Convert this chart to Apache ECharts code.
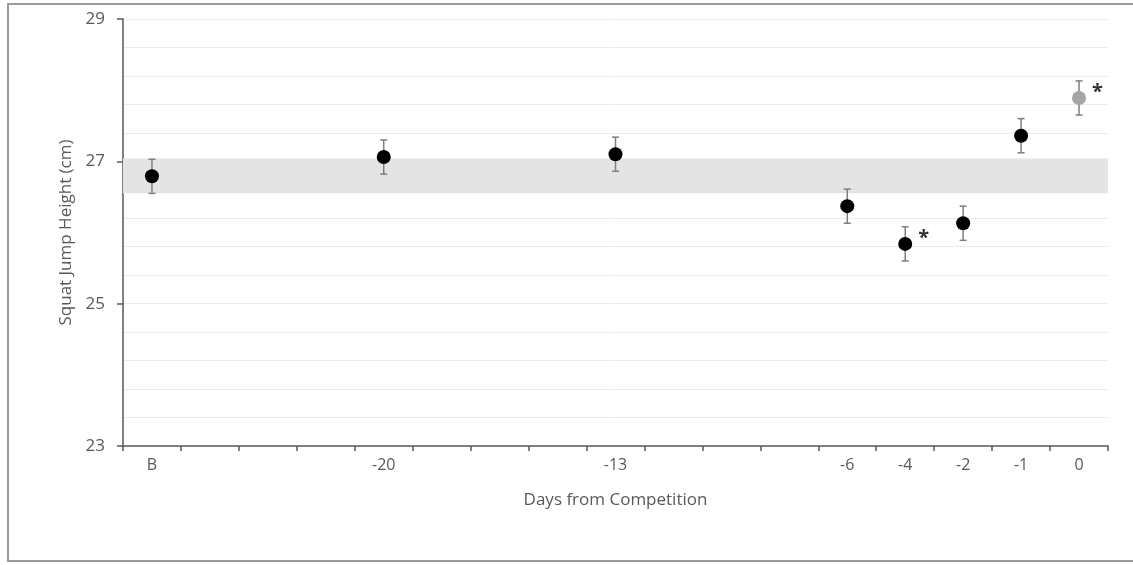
<!DOCTYPE html>
<html>
<head>
<meta charset="utf-8">
<script src="https://cdn.jsdelivr.net/npm/echarts@6/dist/echarts.min.js"></script>
<style>
  html, body { margin: 0; padding: 0; background: #fff; }
  #jump_chart { width: 1133px; height: 565px; }
</style>
</head>
<body>
<div id="jump_chart"></div>
<script>
// tick labels on the x axis (empty slots are unlabeled days)
var days = ['B', '', '', '', '-20', '', '', '', '-13', '', '', '', '-6', '-4', '-2', '-1', '0'];
// mean squat jump height (cm) and error (+/-)
var means = [26.79, null, null, null, 27.06, null, null, null, 27.10, null, null, null, 26.37, 25.84, 26.13, 27.36, 27.89];
var errors = [0.24, null, null, null, 0.24, null, null, null, 0.24, null, null, null, 0.24, 0.24, 0.24, 0.24, 0.24];
var flagged = [false, false, false, false, false, false, false, false, false, false, false, false, false, true, false, false, true];
// baseline band (cm)
var bandLow = 26.55;
var bandHigh = 27.04;

var fontName = 'Open Sans';
var jumpChart = echarts.init(document.getElementById('jump_chart'));

var pointData = [];
var barData = [];
for (var i = 0; i < days.length; i++) {
    if (means[i] === null) continue;
    var last = i === days.length - 1;
    pointData.push({
        value: [i, means[i]],
        itemStyle: { color: last ? '#a6a6a6' : '#000', opacity: 1 },
        label: {
            show: flagged[i],
            formatter: '*',
            position: 'right',
            distance: 6,
            offset: [0, -6],
            fontSize: 20,
            fontWeight: 'bold',
            color: '#333',
            fontFamily: fontName
        }
    });
    barData.push([i, means[i] - errors[i], means[i] + errors[i]]);
}

jumpChart.setOption({
    animation: false,
    backgroundColor: '#fff',
    graphic: [{
        type: 'rect',
        shape: { x: 8, y: 4, width: 1140, height: 557 },
        style: { fill: 'none', stroke: '#9a9a9a', lineWidth: 2 },
        silent: true
    }],
    grid: { left: 123, right: 25, top: 19, bottom: 119 },
    xAxis: {
        type: 'category',
        data: days,
        boundaryGap: true,
        name: 'Days from Competition',
        nameLocation: 'middle',
        nameGap: 46,
        nameTextStyle: { color: '#595959', fontSize: 17, fontFamily: fontName },
        axisLine: { lineStyle: { color: '#595959', width: 1.5 } },
        axisTick: { show: true, interval: 0, length: 5, lineStyle: { color: '#595959', width: 1.5 } },
        axisLabel: { interval: 0, margin: 11, color: '#595959', fontSize: 16, fontFamily: fontName },
        splitLine: { show: false }
    },
    yAxis: {
        type: 'value',
        min: 23,
        max: 29,
        interval: 2,
        name: 'Squat Jump Height (cm)',
        nameLocation: 'middle',
        nameGap: 43,
        nameTextStyle: { color: '#595959', fontSize: 17, fontFamily: fontName },
        axisLine: { show: true, lineStyle: { color: '#595959', width: 1.5 } },
        axisTick: { show: true, length: 6, lineStyle: { color: '#595959', width: 1.5 } },
        axisLabel: { margin: 18, color: '#595959', fontSize: 17, fontFamily: fontName },
        splitLine: { show: true, lineStyle: { color: '#ececec', width: 1 } },
        minorTick: { show: false, splitNumber: 5 },
        minorSplitLine: { show: true, lineStyle: { color: '#ececec', width: 1 } }
    },
    series: [
        {
            type: 'custom',
            name: 'error',
            data: barData,
            z: 3,
            renderItem: function (params, api) {
                var x = api.value(0);
                var lo = api.coord([x, api.value(1)]);
                var hi = api.coord([x, api.value(2)]);
                var cap = 3.5;
                var st = { stroke: '#7f7f7f', lineWidth: 1.5 };
                return {
                    type: 'group',
                    children: [
                        { type: 'line', shape: { x1: hi[0], y1: hi[1], x2: lo[0], y2: lo[1] }, style: st },
                        { type: 'line', shape: { x1: hi[0] - cap, y1: hi[1], x2: hi[0] + cap, y2: hi[1] }, style: st },
                        { type: 'line', shape: { x1: lo[0] - cap, y1: lo[1], x2: lo[0] + cap, y2: lo[1] }, style: st }
                    ]
                };
            },
            markArea: {
                silent: true,
                itemStyle: { color: '#e4e4e4' },
                data: [[{ yAxis: bandLow }, { yAxis: bandHigh }]]
            }
        },
        {
            type: 'scatter',
            name: 'mean',
            data: pointData,
            symbol: 'circle',
            symbolSize: 14,
            itemStyle: { opacity: 1 },
            z: 4
        }
    ]
});
</script>
</body>
</html>
